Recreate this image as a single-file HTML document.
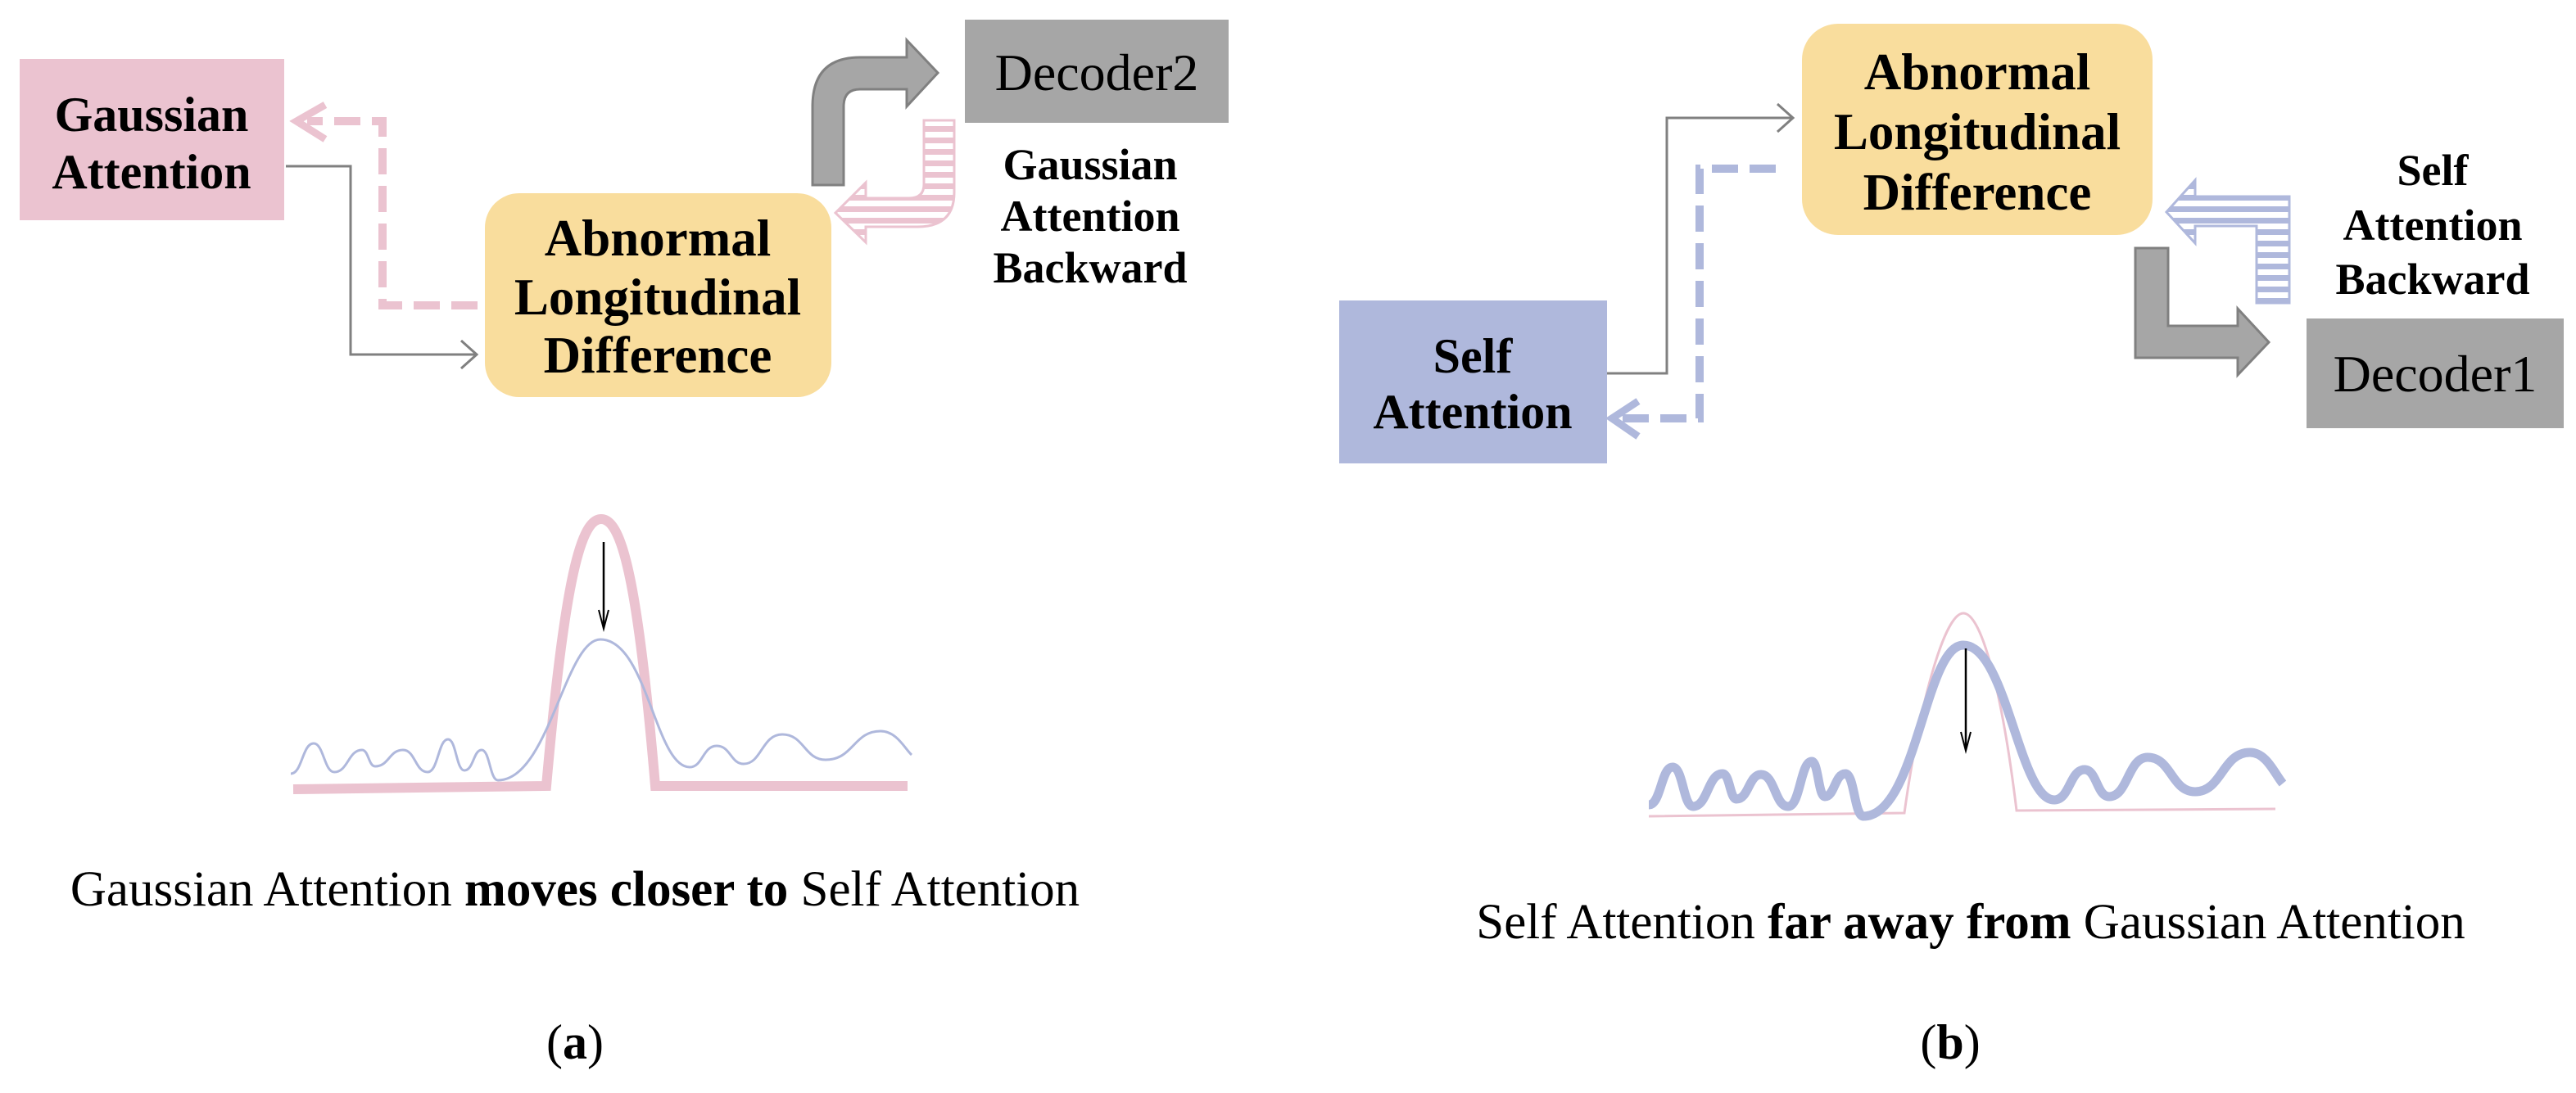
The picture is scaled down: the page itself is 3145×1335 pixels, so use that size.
<!DOCTYPE html>
<html><head><meta charset="utf-8"><style>
html,body{margin:0;padding:0;background:#fff;}
svg{display:block;}
text{font-family:"Liberation Serif",serif;fill:#000;}
.b{font-weight:bold;}
</style></head><body>
<svg width="3145" height="1335" viewBox="0 0 3145 1335" xmlns="http://www.w3.org/2000/svg">
<defs>
<pattern id="pk" width="10" height="14" patternUnits="userSpaceOnUse"><rect width="10" height="14" fill="#fff"/><rect width="10" height="7" fill="#ebc3d0"/></pattern>
<pattern id="bl" width="10" height="14" patternUnits="userSpaceOnUse"><rect width="10" height="14" fill="#fff"/><rect width="10" height="7" fill="#afb8dc"/></pattern>
</defs>

<!-- Panel a -->
<rect x="24" y="72" width="323" height="197" fill="#ebc3d0"/>
<text class="b" x="185" y="160" font-size="60" text-anchor="middle">Gaussian</text>
<text class="b" x="185" y="230" font-size="60" text-anchor="middle">Attention</text>

<rect x="592" y="236" width="423" height="249" rx="42" fill="#f9dd9d"/>
<text class="b" x="803" y="312" font-size="63" text-anchor="middle">Abnormal</text>
<text class="b" x="803" y="384" font-size="63" text-anchor="middle">Longitudinal</text>
<text class="b" x="803" y="455" font-size="63" text-anchor="middle">Difference</text>

<rect x="1178" y="24" width="322" height="126" fill="#a6a6a6"/>
<text x="1339" y="110" font-size="64" text-anchor="middle">Decoder2</text>

<text class="b" x="1331" y="219" font-size="54" text-anchor="middle">Gaussian</text>
<text class="b" x="1331" y="282" font-size="54" text-anchor="middle">Attention</text>
<text class="b" x="1331" y="345" font-size="54" text-anchor="middle">Backward</text>

<path d="M992,226 L1030,226 L1030,130 Q1030,109 1050,109 L1107,109 L1107,130 L1145,89 L1107,49 L1107,70 L1050,70 Q992,70 992,130 Z" fill="#a6a6a6" stroke="#808080" stroke-width="3"/>
<path d="M1128,147 L1165,147 L1165,235 Q1165,277 1120,277 L1057,277 L1057,296 L1020,260 L1057,223 L1057,242 L1110,242 Q1128,242 1128,225 Z" fill="url(#pk)" stroke="#ebc3d0" stroke-width="3"/>

<polyline points="349,203 428,203 428,433 580,433" fill="none" stroke="#808080" stroke-width="3"/>
<polyline points="563,416 582,433 563,450" fill="none" stroke="#808080" stroke-width="3"/>

<polyline points="583,373 467,373 467,148 375,148" fill="none" stroke="#ebc3d0" stroke-width="10" stroke-dasharray="32,14"/>
<polyline points="397,128 362,148 397,170" fill="none" stroke="#ebc3d0" stroke-width="9"/>

<path d="M358,964 L667,960 C690,700 710,634 734,634 C758,634 778,700 800,960 L1108,960" fill="none" stroke="#ebc3d0" stroke-width="12"/>
<path d="M355,945 C369,945 369,908 383,908 C395,908 396,943 408,943 C425,943 425,916 442,916 C450,916 450,936 458,936 C475,936 475,916 492,916 C507,916 507,943 522,943 C535,943 535,903 547,903 C557,903 557,941 567,941 C578,941 578,916 588,916 C598,916 598,953 608,953 C670,953 690,781 733,781 C790,781 800,937 842,937 C858,937 858,911 875,911 C892,911 892,933 908,933 C930,933 930,897 955,897 C982,897 982,928 1008,928 C1042,928 1042,893 1075,893 C1095,893 1105,915 1113,922" fill="none" stroke="#afb8dc" stroke-width="3"/>
<line x1="737" y1="662" x2="737" y2="766" stroke="#000" stroke-width="2.5"/>
<path d="M731,745 L737,768 L743,745" fill="none" stroke="#000" stroke-width="2"/>

<text x="702" y="1106" font-size="61" text-anchor="middle">Gaussian Attention <tspan class="b">moves closer to</tspan> Self Attention</text>
<text x="702" y="1293" font-size="60" text-anchor="middle">(<tspan class="b">a</tspan>)</text>

<!-- Panel b -->
<rect x="2200" y="29" width="428" height="258" rx="44" fill="#f9dd9d"/>
<text class="b" x="2414" y="109" font-size="63" text-anchor="middle">Abnormal</text>
<text class="b" x="2414" y="182" font-size="63" text-anchor="middle">Longitudinal</text>
<text class="b" x="2414" y="256" font-size="63" text-anchor="middle">Difference</text>

<rect x="1635" y="367" width="327" height="199" fill="#afb8dc"/>
<text class="b" x="1798" y="455" font-size="60" text-anchor="middle">Self</text>
<text class="b" x="1798" y="523" font-size="60" text-anchor="middle">Attention</text>

<rect x="2816" y="389" width="314" height="134" fill="#a6a6a6"/>
<text x="2973" y="478" font-size="64" text-anchor="middle">Decoder1</text>

<text class="b" x="2970" y="226" font-size="54" text-anchor="middle">Self</text>
<text class="b" x="2970" y="293" font-size="54" text-anchor="middle">Attention</text>
<text class="b" x="2970" y="359" font-size="54" text-anchor="middle">Backward</text>

<path d="M2755,370 L2795,370 L2795,240 L2680,240 L2680,220 L2645,259 L2680,297 L2680,276 L2755,276 Z" fill="url(#bl)" stroke="#afb8dc" stroke-width="3"/>
<path d="M2607,303 L2647,303 L2647,398 L2732,398 L2732,377 L2770,418 L2732,458 L2732,437 L2607,437 Z" fill="#a6a6a6" stroke="#808080" stroke-width="3"/>

<polyline points="1962,456 2035,456 2035,144 2187,144" fill="none" stroke="#808080" stroke-width="3"/>
<polyline points="2170,127 2189,144 2170,161" fill="none" stroke="#808080" stroke-width="3"/>

<polyline points="2168,206 2075,206 2075,511 1980,511" fill="none" stroke="#afb8dc" stroke-width="10" stroke-dasharray="32,14"/>
<polyline points="2000,490 1968,511 2000,533" fill="none" stroke="#afb8dc" stroke-width="9"/>

<path d="M2013,997 L2325,993 C2345,850 2375,749 2397,749 C2420,749 2445,850 2462,990 L2778,988" fill="none" stroke="#ebc3d0" stroke-width="3"/>
<path d="M2013,983 C2028,983 2028,937 2042,937 C2055,937 2055,985 2067,985 C2085,985 2085,945 2103,945 C2112,945 2112,976 2120,976 C2135,976 2135,946 2150,946 C2167,946 2167,985 2183,985 C2198,985 2198,930 2212,930 C2220,930 2220,973 2228,973 C2240,973 2240,945 2253,945 C2264,945 2264,997 2275,997 C2340,997 2350,788 2397,788 C2450,788 2465,977 2508,977 C2527,977 2527,940 2545,940 C2560,940 2560,973 2575,973 C2598,973 2598,925 2622,925 C2651,925 2651,967 2680,967 C2713,967 2713,919 2747,919 C2767,919 2777,945 2787,957" fill="none" stroke="#afb8dc" stroke-width="11"/>
<line x1="2400" y1="792" x2="2400" y2="915" stroke="#000" stroke-width="2.5"/>
<path d="M2394,894 L2400,917 L2406,894" fill="none" stroke="#000" stroke-width="2"/>

<text x="2406" y="1146" font-size="61" text-anchor="middle">Self Attention <tspan class="b">far away from</tspan> Gaussian Attention</text>
<text x="2381" y="1293" font-size="60" text-anchor="middle">(<tspan class="b">b</tspan>)</text>
</svg>
</body></html>
